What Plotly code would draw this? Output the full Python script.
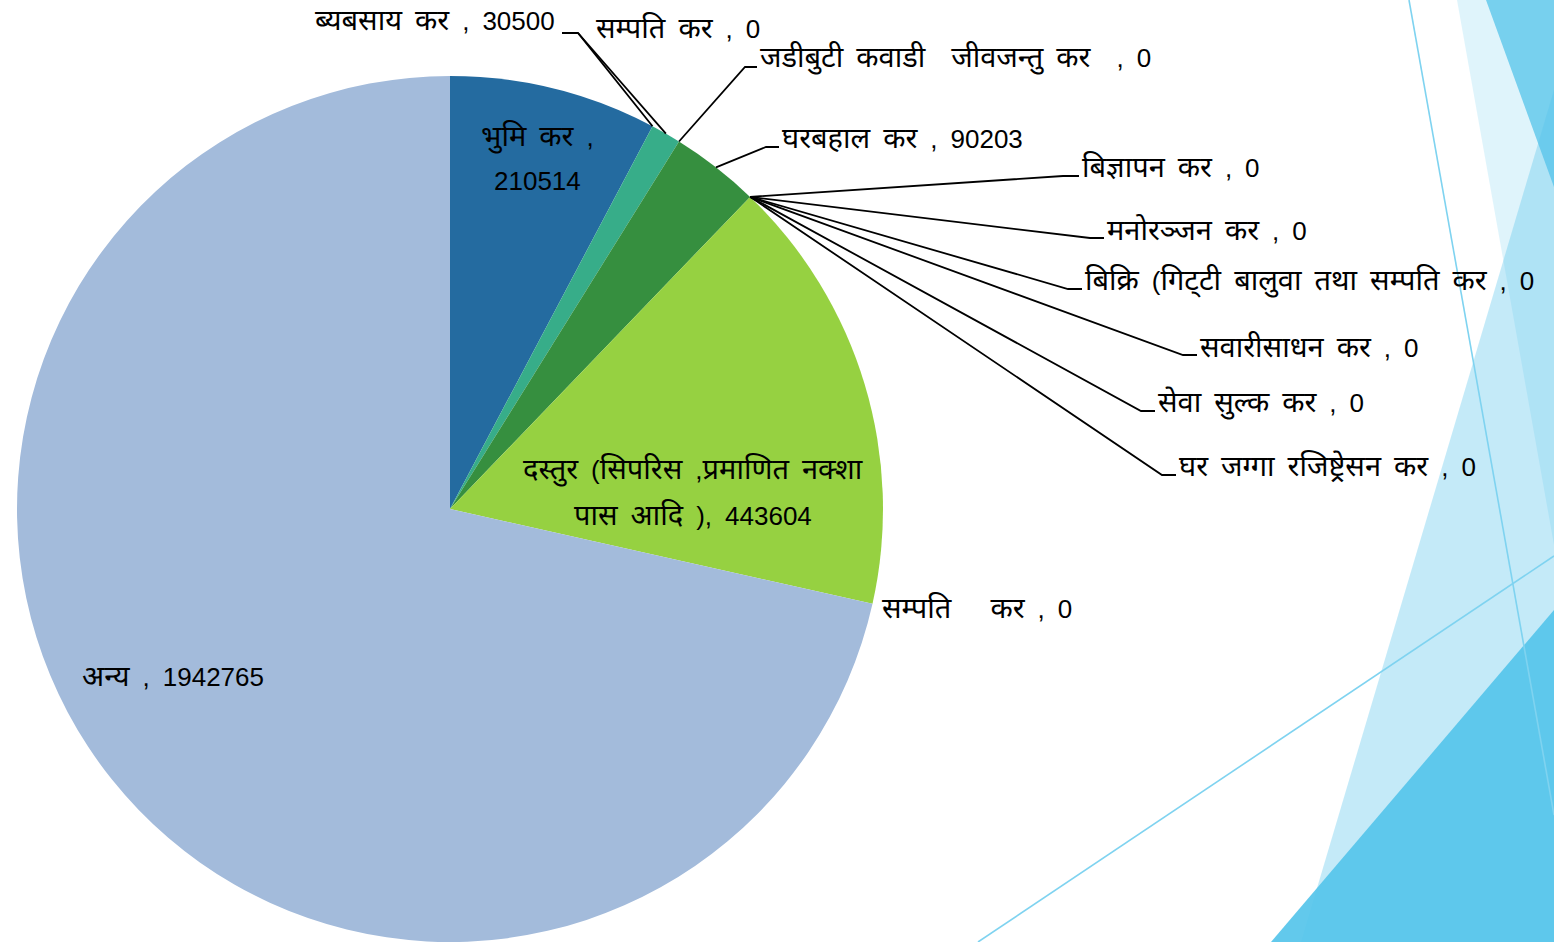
import math
import re
import plotly.graph_objects as go

# ---------------- data ----------------
labels = [
    "भुमि कर ",
    "ब्यबसाय कर ",
    "सम्पति कर ",
    "जडीबुटी कवाडी  जीवजन्तु कर  ",
    "घरबहाल कर ",
    "बिज्ञापन कर ",
    "मनोरञ्जन कर ",
    "बिक्रि (गिट्\u200cटी बालुवा तथा सम्पति कर ",
    "सवारीसाधन कर ",
    "सेवा सुल्क कर ",
    "घर जग्गा रजिष्ट्रेसन कर ",
    "दस्तुर (सिपरिस ,प्रमाणित नक्शा पास आदि )",
    "सम्पति   कर ",
    "अन्य ",
]
values = [210514, 30500, 0, 0, 90203, 0, 0, 0, 0, 0, 0, 443604, 0, 1942765]
colors = ["#246BA0", "#37AD89", "#37AD89", "#37AD89", "#368F3F", "#368F3F", "#368F3F",
          "#368F3F", "#368F3F", "#368F3F", "#368F3F", "#96D141", "#96D141", "#A3BBDB"]

# ---------------- layout geometry (pixels) ----------------
W, H = 1554, 942
CX, CY, R = 450, 509, 433
FS = 26        # latin / digits
FS_DEV = 29    # devanagari runs

label_pos = {
    0: dict(x=537, y=[137, 181], align="center", split=3),
    1: dict(x=557, y=[20], align="right", leader=([(562, 33), (578, 33)], "start")),
    2: dict(x=594, y=[28], align="left", leader=([(578, 33)], "prevmid")),
    3: dict(x=758, y=[58], align="left", leader=([(757, 67), (745, 67)], "start")),
    4: dict(x=780, y=[138], align="left", leader=([(779, 147), (766, 147)], "mid")),
    5: dict(x=1080, y=[167], align="left", leader=([(1079, 176), (1063, 176)], "start")),
    6: dict(x=1105, y=[230], align="left", leader=([(1104, 238), (1090, 238)], "start")),
    7: dict(x=1083, y=[281], align="left", leader=([(1082, 289), (1068, 289)], "start")),
    8: dict(x=1198, y=[347], align="left", leader=([(1197, 355), (1183, 355)], "start")),
    9: dict(x=1156, y=[403], align="left", leader=([(1155, 411), (1141, 411)], "start")),
    10: dict(x=1177, y=[466], align="left", leader=([(1176, 475), (1162, 475)], "start")),
    11: dict(x=693, y=[470, 515], align="center", split=4),
    12: dict(x=880, y=[608], align="left"),
    13: dict(x=80, y=[676], align="left"),
}


def px(x):
    return x / W


def py(y):
    return 1 - y / H


def styled(s):
    s = s.replace(" ", "\u2002")
    return re.sub(r"([\u0900-\u097F\u200c\u200d]+)",
                  lambda m: f'<span style="font-size:{FS_DEV}px">{m.group(1)}</span>', s)


total = sum(values)
cum = [0.0]
for v in values:
    cum.append(cum[-1] + v / total)


def arc_point(frac):
    a = 2 * math.pi * frac
    return CX + R * math.sin(a), CY - R * math.cos(a)


fig = go.Figure()
fig.add_trace(go.Pie(
    labels=labels,
    values=values,
    sort=False,
    direction="clockwise",
    rotation=0,
    textinfo="none",
    marker=dict(colors=colors, line=dict(width=0)),
    domain=dict(x=[(CX - R) / W, (CX + R) / W], y=[0, 2 * R / H]),
    showlegend=False,
))

# ---------------- background decorations ----------------
base = "85,196,234"
shapes = []


def poly(pts, fill):
    path = "M " + " L ".join(f"{px(a)},{py(b)}" for a, b in pts) + " Z"
    shapes.append(dict(type="path", xref="paper", yref="paper", path=path,
                       fillcolor=fill, line=dict(width=0), layer="below"))


poly([(1457, 0), (1554, 0), (1554, 545)], f"rgba({base},0.19)")
poly([(1486, 0), (1554, 0), (1554, 187)], f"rgba({base},0.76)")
poly([(1554, 90), (1554, 942), (1301, 942)], f"rgba({base},0.35)")
poly([(1554, 610), (1554, 942), (1271, 942)], f"rgba({base},0.92)")
for (x0, y0, x1, y1) in [(1409, 0, 1554, 815), (978, 942, 1554, 556)]:
    shapes.append(dict(type="line", xref="paper", yref="paper",
                       x0=px(x0), y0=py(y0), x1=px(x1), y1=py(y1),
                       line=dict(color="#7FD3F0", width=1.6), layer="below"))

# ---------------- labels & leader lines ----------------
annotations = []
for i, spec in label_pos.items():
    txt = f"{labels[i]}, {values[i]}"
    if "split" in spec:
        words = txt.split(" ")
        n = spec["split"]
        lines = [" ".join(words[:n]), " ".join(words[n:])]
    else:
        lines = [txt]
    for line, yy in zip(lines, spec["y"]):
        annotations.append(dict(
            x=px(spec["x"]), y=py(yy), xref="paper", yref="paper",
            text=styled(line), showarrow=False,
            xanchor=spec["align"], yanchor="middle",
            font=dict(size=FS, color="black"),
        ))
    if "leader" in spec:
        pts, kind = spec["leader"]
        if kind == "start":
            frac = cum[i]
        elif kind == "mid":
            frac = (cum[i] + cum[i + 1]) / 2
        else:  # middle of the previous slice
            frac = (cum[i - 1] + cum[i]) / 2
        ax, ay = arc_point(frac)
        allpts = pts + [(ax, ay)]
        path = "M " + " L ".join(f"{px(a)},{py(b)}" for a, b in allpts)
        shapes.append(dict(type="path", xref="paper", yref="paper", path=path,
                           line=dict(color="black", width=1.8), layer="above"))

fig.update_layout(
    width=W, height=H, autosize=False,
    margin=dict(l=0, r=0, t=0, b=0),
    paper_bgcolor="white", plot_bgcolor="white",
    font=dict(family="Liberation Sans, Arial, Noto Sans, sans-serif", size=FS, color="black"),
    shapes=shapes,
    annotations=annotations,
)

fig.write_html("out.html",
               config={"displayModeBar": False},
               post_script="document.body.style.margin='0';document.body.style.overflow='hidden';")
